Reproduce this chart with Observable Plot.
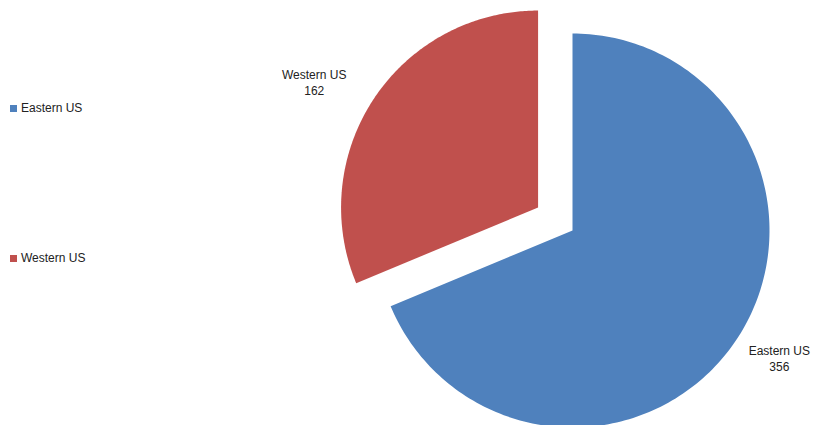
<!DOCTYPE html>
<html>
<head>
<meta charset="utf-8">
<script src="https://cdn.jsdelivr.net/npm/d3@7"></script>
<script src="https://cdn.jsdelivr.net/npm/@observablehq/plot@0.6"></script>
<style>
  html, body { margin: 0; padding: 0; background: #fff; }
  #wrap { position: relative; width: 825px; height: 425px; overflow: hidden; font-family: "Liberation Sans", Arial, sans-serif; }
  .legend { position: absolute; left: 10px; font-size: 12px; color: #222; display: flex; align-items: center; }
  .legend span.sw { display: inline-block; width: 7px; height: 7px; margin-right: 4px; }
</style>
</head>
<body>
<div id="wrap"></div>
<script>
const categories = ["Eastern US", "Western US"];
const values = [356, 162];
const colors = ["#4F81BD", "#C0504D"];

const W = 825, H = 425;
const cx = 572, cy = 230, R = 197;   // pie centre & radius in pixels
const explode = 0.21;                 // explode distance (radius units) for Western slice

const pie = d3.pie().sort(null).value((d, i) => values[i])(categories);
const slices = categories.map((name, i) => {
  const a0 = pie[i].startAngle, a1 = pie[i].endAngle, mid = (a0 + a1) / 2;
  const off = i === 1 ? explode : 0;
  return {name, value: values[i], a0, a1, mid, ox: off * Math.sin(mid), oy: off * Math.cos(mid)};
});

const points = [];
for (const s of slices) {
  points.push({name: s.name, x: s.ox, y: s.oy});
  const n = 200;
  for (let k = 0; k <= n; k++) {
    const a = s.a0 + (s.a1 - s.a0) * k / n;
    points.push({name: s.name, x: s.ox + Math.sin(a), y: s.oy + Math.cos(a)});
  }
  points.push({name: s.name, x: s.ox, y: s.oy});
}

const labels = slices.map(s => ({
  name: s.name,
  text: s.name + "\n" + s.value,
  x: s.ox + 1.25 * Math.sin(s.mid),
  y: s.oy + 1.25 * Math.cos(s.mid)
}));

const chart = Plot.plot({
  width: W, height: H,
  margin: 0,
  x: {domain: [-cx / R, (W - cx) / R], axis: null},
  y: {domain: [-(H - cy) / R, cy / R], axis: null},
  color: {domain: categories, range: colors},
  style: {fontFamily: "Liberation Sans, Arial, sans-serif", background: "white"},
  marks: [
    Plot.line(points, {x: "x", y: "y", z: "name", fill: "name", stroke: null}),
    Plot.text(labels.filter(d => d.name === "Eastern US"), {x: "x", y: "y", text: "text", fontSize: 12, fill: "#222", lineHeight: 1.35, dx: 2, dy: -9}),
    Plot.text(labels.filter(d => d.name === "Western US"), {x: "x", y: "y", text: "text", fontSize: 12, fill: "#222", lineHeight: 1.35, dx: -19, dy: 11})
  ]
});

const wrap = document.getElementById("wrap");
wrap.appendChild(chart);
const legendTops = [101, 251];
categories.forEach((c, i) => {
  const div = document.createElement("div");
  div.className = "legend";
  div.style.top = legendTops[i] + "px";
  div.innerHTML = `<span class="sw" style="background:${colors[i]}"></span>${c}`;
  wrap.appendChild(div);
});
</script>
</body>
</html>
